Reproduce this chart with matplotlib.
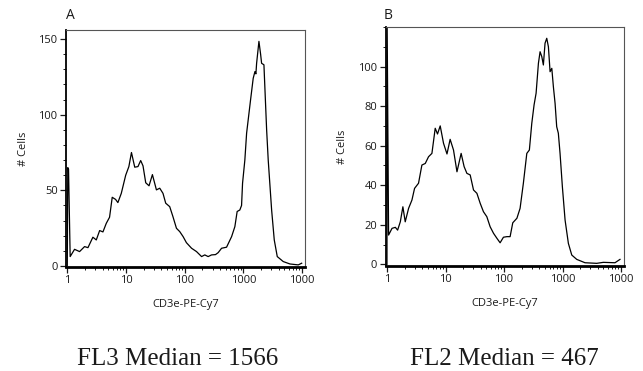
import matplotlib
matplotlib.use("Agg")
import matplotlib.pyplot as plt
from matplotlib.ticker import FixedLocator, NullFormatter

# ----------------------------
# Data
# ----------------------------

# panel A: FL3 channel, CD3e-PE-Cy7
a_x = [1.0, 1.02, 1.05, 1.12, 1.33, 1.62, 1.97, 2.25, 2.73, 3.12, 3.56, 4.05,
       4.62, 5.25, 5.83, 6.65, 7.28, 8.32, 9.89, 11.2, 12.4, 14.1, 16.0, 17.8,
       19.5, 21.7, 24.7, 28.2, 33.0, 37.6, 42.7, 47.5, 55.6, 63.1, 72.4, 82.4,
       94, 107, 131, 159, 194, 220, 251, 287, 335, 372, 425, 517, 630, 716,
       783, 870, 931, 968, 1059, 1135, 1327, 1469, 1572, 1634, 1680, 1840,
       1965, 2043, 2239, 2489, 2649, 3028, 3357, 3776, 4775, 6220, 8610, 9840]
a_y = [0, 65, 64, 6.2, 11, 9.5, 12.8, 12.1, 19, 17.2, 23.4, 22.5,
       28.2, 32.2, 45.4, 44, 41.9, 48, 60, 65.7, 75, 65.3, 65.7, 69.7,
       66.2, 55, 53, 60.4, 50.3, 51.4, 48, 41.5, 39.2, 32.6, 24.9, 22.7,
       19.4, 15.4, 11.7, 9.5, 6.2, 7.3, 6.2, 7.3, 7.5, 8.8, 11.7, 12.4, 19.4, 26,
       36, 37, 40, 54.7, 70, 87.8, 110, 124, 128.5, 127, 134, 148.5,
       140, 134, 133, 90, 70, 37, 17.2, 6.2, 2.9, 1.3, 0.7, 1.8]

# panel B: FL2 channel, CD3e-PE-Cy7
b_x = [1.0, 1.005, 1.065, 1.22, 1.39, 1.52, 1.69, 1.87, 2.05, 2.34, 2.67, 2.96,
       3.46, 3.95, 4.51, 5.13, 5.86, 6.67, 7.3, 8.12, 9.25, 10.6, 12.0, 13.7,
       15.7, 18.5, 20.8, 23.2, 26.4, 30.1, 34.4, 39.1, 44.5, 50.8, 57.9, 66.1,
       75.4, 85.7, 97.7, 112, 127, 141, 166, 188, 214, 245, 271, 298, 326, 353,
       387, 413, 442, 470, 502, 537, 573, 612, 655, 697, 745, 794, 847, 906,
       993, 1104, 1257, 1436, 1747, 2421, 3837, 4966, 7870, 9580]
b_y = [0, 125, 14.8, 18.2, 18.7, 17.3, 21.5, 29.1, 21.5, 28.3, 32.5, 38.4,
       41, 50.2, 51, 54.4, 56.1, 68.8, 65.9, 70, 61.2, 55.8, 63.2, 57.8,
       46.8, 56.1, 49.4, 46, 45.2, 37.6, 35.9, 30.9, 26.6, 24.1, 19, 15.7,
       13.2, 10.9, 13.7, 14, 14, 21, 23.3, 28.3, 41, 56.1, 57.8, 71.3, 80.6, 86.5,
       101.7, 107.5, 105, 100.8, 111.8, 114.3, 110, 97.4, 99.1, 89.8, 81.4, 69.6, 66.3, 56.1,
       39.2, 22.4, 10.6, 4.7, 2.5, 0.8, 0.5, 1.0, 0.8, 2.5]

x_ticks = [1, 10, 100, 1000, 10000]
x_tick_labels = ["1", "10", "100", "1000", "1000"]   # as printed in the source
a_yticks = [0, 50, 100, 150]
b_yticks = [0, 20, 40, 60, 80, 100]

SANS = "Open Sans"
SERIF = "Liberation Serif"
INK = "#1a1a1a"


def draw_panel(ax, xs, ys, yticks, ymax):
    ax.plot(xs, ys, color="black", lw=0.9)
    ax.set_xscale("log")
    ax.set_xlim(0.95, 11200)
    ax.set_ylim(-0.7, ymax)

    ax.xaxis.set_major_locator(FixedLocator(x_ticks))
    ax.set_xticklabels(x_tick_labels)
    minors = [m * 10 ** d for d in range(4) for m in range(2, 10)]
    ax.xaxis.set_minor_locator(FixedLocator(minors))
    ax.xaxis.set_minor_formatter(NullFormatter())

    ax.set_yticks(yticks)
    ax.yaxis.set_minor_locator(FixedLocator(range(0, int(ymax) + 1, 10)))

    ax.tick_params(which="major", direction="out", length=4, width=0.9,
                   colors=INK, labelsize=8, pad=2)
    ax.tick_params(which="minor", direction="out", length=2, width=0.7, color=INK)
    for lab in ax.get_xticklabels() + ax.get_yticklabels():
        lab.set_fontfamily(SANS)

    ax.spines["bottom"].set_linewidth(2.0)
    ax.spines["left"].set_linewidth(1.3)
    for side in ("top", "right"):
        ax.spines[side].set_linewidth(0.8)
        ax.spines[side].set_color("#555555")

    ax.set_xlabel("CD3e-PE-Cy7", fontsize=8, family=SANS, color=INK, labelpad=9)
    ax.set_ylabel("# Cells", fontsize=8, family=SANS, color=INK, labelpad=7)


fig = plt.figure(figsize=(6.43, 3.71), dpi=100)
ax_a = fig.add_axes([0.1026, 0.2803, 0.3717, 0.6388])
ax_b = fig.add_axes([0.5998, 0.2838, 0.3706, 0.6434])

draw_panel(ax_a, a_x, a_y, a_yticks, 156)
draw_panel(ax_b, b_x, b_y, b_yticks, 120)

fig.text(0.1089, 0.958, "A", fontsize=10, family=SANS, color=INK, ha="center", va="center")
fig.text(0.6042, 0.957, "B", fontsize=10, family=SANS, color=INK, ha="center", va="center")

fig.text(0.2768, 0.016, "FL3 Median = 1566", fontsize=18, family=SERIF,
         color=INK, ha="center", va="baseline")
fig.text(0.7838, 0.016, "FL2 Median = 467", fontsize=18, family=SERIF,
         color=INK, ha="center", va="baseline")

fig.savefig("out.png", dpi=100)
